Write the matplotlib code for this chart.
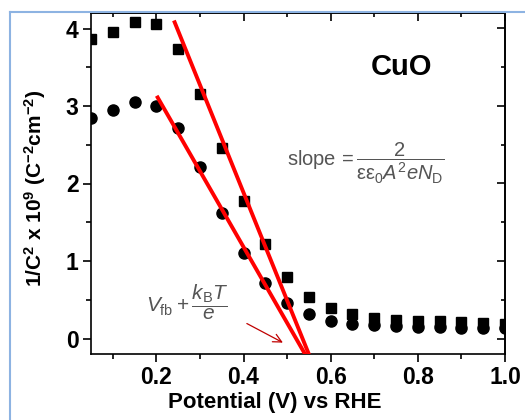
#!/usr/bin/env python3
# Mott-Schottky do CuO: 1/C^2 vs potencial, com as retas de ajuste.

import matplotlib
matplotlib.use("Agg")
import matplotlib.pyplot as plt
from matplotlib.ticker import MultipleLocator, NullFormatter
from matplotlib.lines import Line2D

plt.rcParams["font.family"] = ["Liberation Sans", "DejaVu Sans"]
plt.rcParams["mathtext.fontset"] = "custom"
plt.rcParams["mathtext.rm"] = "Liberation Sans"
plt.rcParams["mathtext.it"] = "Liberation Sans:italic"
plt.rcParams["mathtext.bf"] = "Liberation Sans:bold"

# dados
pot = [0.05, 0.10, 0.15, 0.20, 0.25, 0.30, 0.35, 0.40, 0.45, 0.50,
       0.55, 0.60, 0.65, 0.70, 0.75, 0.80, 0.85, 0.90, 0.95, 1.00]
quadrados = [3.87, 3.95, 4.08, 4.06, 3.74, 3.16, 2.46, 1.77, 1.22, 0.79,
             0.53, 0.39, 0.31, 0.27, 0.24, 0.23, 0.22, 0.21, 0.20, 0.19]
circulos = [2.85, 2.95, 3.05, 3.00, 2.72, 2.21, 1.62, 1.10, 0.72, 0.46,
            0.31, 0.23, 0.19, 0.17, 0.16, 0.15, 0.15, 0.14, 0.14, 0.14]

# retas de ajuste (extremos)
ajuste_q_x = [0.242, 0.549]
ajuste_q_y = [4.08, -0.19]
ajuste_c_x = [0.203, 0.540]
ajuste_c_y = [3.11, -0.19]

# seta indicando o potencial de banda plana
seta_ini = (0.402, 0.21)
seta_fim = (0.496, -0.07)

fig = plt.figure(figsize=(5.25, 4.2), dpi=100)
ax = fig.add_axes([91 / 525, 66 / 420, 414 / 525, 341 / 420])

# moldura azul clara da captura
fig.add_artist(Line2D([10 / 525, 10 / 525], [0, 408 / 420],
                      transform=fig.transFigure, color="#8db3e2", lw=1.5))
fig.add_artist(Line2D([10 / 525, 1], [408 / 420, 408 / 420],
                      transform=fig.transFigure, color="#8db3e2", lw=1.5))

ax.plot(pot, quadrados, "s", color="black", ms=7.5, zorder=3)
ax.plot(pot, circulos, "o", color="black", ms=8, zorder=3)
ax.plot(ajuste_q_x, ajuste_q_y, "-", color="#ff0000", lw=2.8, zorder=4)
ax.plot(ajuste_c_x, ajuste_c_y, "-", color="#ff0000", lw=2.8, zorder=4)

ax.annotate("", xy=seta_fim, xytext=seta_ini,
            arrowprops=dict(arrowstyle="->", color="#c00000", lw=0.9,
                            mutation_scale=15))

ax.text(0.762, 3.5, "CuO", fontsize=21, fontweight="bold",
        ha="center", va="center")
ax.text(0.50, 2.26,
        r"slope$\,=\dfrac{2}{\mathrm{\varepsilon\varepsilon}_0A^2eN_\mathrm{D}}$",
        fontsize=14.5, color="#555555", ha="left", va="center")
ax.text(0.27, 0.47, r"$V_\mathrm{fb}+\dfrac{k_\mathrm{B}T}{e}$",
        fontsize=15, color="#555555", ha="center", va="center")

ax.set_xlim(0.05, 1.0)
ax.set_ylim(-0.2, 4.2)
ax.xaxis.set_minor_locator(MultipleLocator(0.1))
ax.yaxis.set_minor_locator(MultipleLocator(0.5))
ax.tick_params(which="both", labelsize=16.5, width=1.2)
ax.tick_params(which="major", length=6, pad=3)
ax.tick_params(which="minor", length=3.5)
ax.set_xticks([0.2, 0.4, 0.6, 0.8, 1.0])
ax.set_xticklabels(["0.2", "0.4", "0.6", "0.8", "1.0"], fontweight="bold")
ax.set_yticks([0, 1, 2, 3, 4])
ax.set_yticklabels(["0", "1", "2", "3", "4"], fontweight="bold")

# ticks de cima e da direita para dentro
topo = ax.secondary_xaxis("top")
topo.xaxis.set_major_locator(MultipleLocator(0.2))
topo.xaxis.set_minor_locator(MultipleLocator(0.1))
topo.xaxis.set_major_formatter(NullFormatter())
topo.tick_params(which="both", direction="in", width=1.2)
topo.tick_params(which="major", length=6)
topo.tick_params(which="minor", length=3)
direita = ax.secondary_yaxis("right")
direita.yaxis.set_major_locator(MultipleLocator(1))
direita.yaxis.set_minor_locator(MultipleLocator(0.5))
direita.yaxis.set_major_formatter(NullFormatter())
direita.tick_params(which="both", direction="in", width=1.2)
direita.tick_params(which="major", length=6)
direita.tick_params(which="minor", length=3)

ax.set_xlabel("Potential (V) vs RHE", fontsize=16, fontweight="bold")
ax.set_ylabel(r"1/C$^\mathbf{2}$ x 10$^\mathbf{9}$ (C$^\mathbf{-2}$cm$^\mathbf{-2}$)",
              fontsize=15, fontweight="bold")
ax.xaxis.set_label_coords(0.445, -0.11)
ax.yaxis.set_label_coords(-0.104, 0.487)
for s in ax.spines.values():
    s.set_linewidth(1.2)
for s in list(topo.spines.values()) + list(direita.spines.values()):
    s.set_linewidth(1.2)

fig.savefig("out.png", dpi=100)
